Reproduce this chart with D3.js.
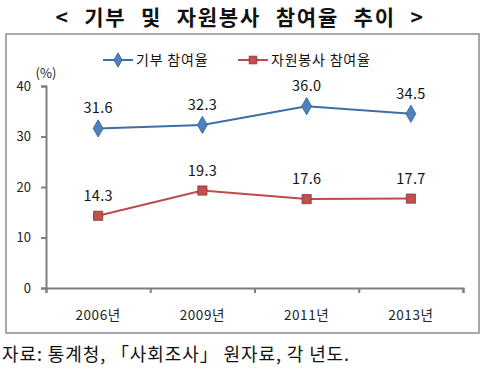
<!DOCTYPE html>
<html>
<head>
<meta charset="utf-8">
<script src="https://cdn.jsdelivr.net/npm/d3@7"></script>
<style>
  body { margin: 0; background: #fff; }
  text { font-family: "Noto Sans CJK KR", sans-serif; }
</style>
</head>
<body>
<div id="chart"></div>
<script>
const years = ["2006년", "2009년", "2011년", "2013년"];
const donation = [31.6, 32.3, 36.0, 34.5];
const volunteer = [14.3, 19.3, 17.6, 17.7];
const yTicks = [0, 10, 20, 30, 40];
const seriesNames = ["기부 참여율", "자원봉사 참여율"];

const W = 485, H = 387;
const svg = d3.select("#chart").append("svg")
    .attr("width", W).attr("height", H);

// title
svg.append("text")
    .attr("x", 240).attr("y", 25)
    .attr("text-anchor", "middle")
    .style("font-size", "21px")
    .style("font-weight", "700")
    .style("letter-spacing", "1.8px")
    .style("word-spacing", "8px")
    .style("fill", "#111")
    .text("< 기부 및 자원봉사 참여율 추이 >");

// frame
svg.append("rect")
    .attr("x", 6).attr("y", 34)
    .attr("width", 473).attr("height", 299)
    .attr("fill", "none")
    .attr("stroke", "#8c8c8c")
    .attr("stroke-width", 1.5);

const plot = {left: 46, right: 463, top: 86, bottom: 288};

const x = d3.scaleBand().domain(years).range([plot.left, plot.right]);
const y = d3.scaleLinear().domain([0, 40]).range([plot.bottom, plot.top]);
const xEdges = d3.scaleLinear().domain([0, years.length]).range([plot.left, plot.right]);

// y axis
const yAxis = svg.append("g")
    .attr("transform", `translate(${plot.left},0)`)
    .call(d3.axisLeft(y).tickValues(yTicks).tickSize(5).tickPadding(10));
yAxis.selectAll("text").style("font-size", "13px").style("fill", "#222");

// x axis ticks at band edges
const xTickAxis = svg.append("g")
    .attr("transform", `translate(0,${plot.bottom})`)
    .call(d3.axisBottom(xEdges).ticks(years.length).tickSize(5).tickFormat(""));

// x labels
const xAxis = svg.append("g")
    .attr("transform", `translate(0,${plot.bottom})`)
    .call(d3.axisBottom(x).tickSize(0).tickPadding(22));
xAxis.select(".domain").remove();
xAxis.selectAll("text")
    .style("font-size", "13.5px")
    .style("letter-spacing", "0.6px")
    .style("fill", "#222");

[yAxis, xTickAxis].forEach(g => {
    g.selectAll(".domain, line").attr("stroke", "#7f7f7f").attr("stroke-width", 2);
});

svg.append("text")
    .attr("x", 46).attr("y", 78)
    .attr("text-anchor", "middle")
    .style("font-size", "13px")
    .style("fill", "#222")
    .text("(%)");

const series = [
    {name: seriesNames[0], values: donation, line: "#3d6fa6", fill: "#4f81bd", stroke: "#2f5d8f", shape: d3.symbolDiamond, size: 85},
    {name: seriesNames[1], values: volunteer, line: "#be4b48", fill: "#c0504d", stroke: "#8c3836", shape: d3.symbolSquare, size: 85}
];

const line = d3.line()
    .x((d, i) => x(years[i]) + x.bandwidth() / 2)
    .y(d => y(d));

series.forEach(s => {
    svg.append("path")
        .datum(s.values)
        .attr("fill", "none")
        .attr("stroke", s.line)
        .attr("stroke-width", 2)
        .attr("d", line);

    svg.selectAll(null)
        .data(s.values)
        .enter().append("path")
        .attr("transform", (d, i) => `translate(${x(years[i]) + x.bandwidth() / 2},${y(d)})`)
        .attr("d", d3.symbol().type(s.shape).size(s.size))
        .attr("fill", s.fill)
        .attr("stroke", s.stroke)
        .attr("stroke-width", 0.8);

    svg.selectAll(null)
        .data(s.values)
        .enter().append("text")
        .attr("x", (d, i) => x(years[i]) + x.bandwidth() / 2)
        .attr("y", d => y(d) - 15)
        .attr("text-anchor", "middle")
        .style("font-size", "14.5px")
        .style("letter-spacing", "0.3px")
        .style("fill", "#111")
        .text(d => d.toFixed(1));
});

// legend
const legendX = [103, 238];
series.forEach((s, i) => {
    const g = svg.append("g").attr("transform", `translate(${legendX[i]},60)`);
    g.append("line")
        .attr("x1", 0).attr("x2", 30)
        .attr("stroke", s.line).attr("stroke-width", 2);
    g.append("path")
        .attr("transform", "translate(15,0)")
        .attr("d", d3.symbol().type(s.shape).size(s.size * 0.7))
        .attr("fill", s.fill)
        .attr("stroke", s.stroke)
        .attr("stroke-width", 0.8);
    g.append("text")
        .attr("x", 33).attr("y", 5)
        .style("font-size", "14px")
        .style("letter-spacing", "0.8px")
        .style("fill", "#111")
        .text(s.name);
});

// source
svg.append("text")
    .attr("x", 2).attr("y", 361)
    .style("font-size", "18px")
    .style("letter-spacing", "0.9px")
    .style("fill", "#111")
    .text("자료: 통계청, 「사회조사」 원자료, 각 년도.");
</script>
</body>
</html>
